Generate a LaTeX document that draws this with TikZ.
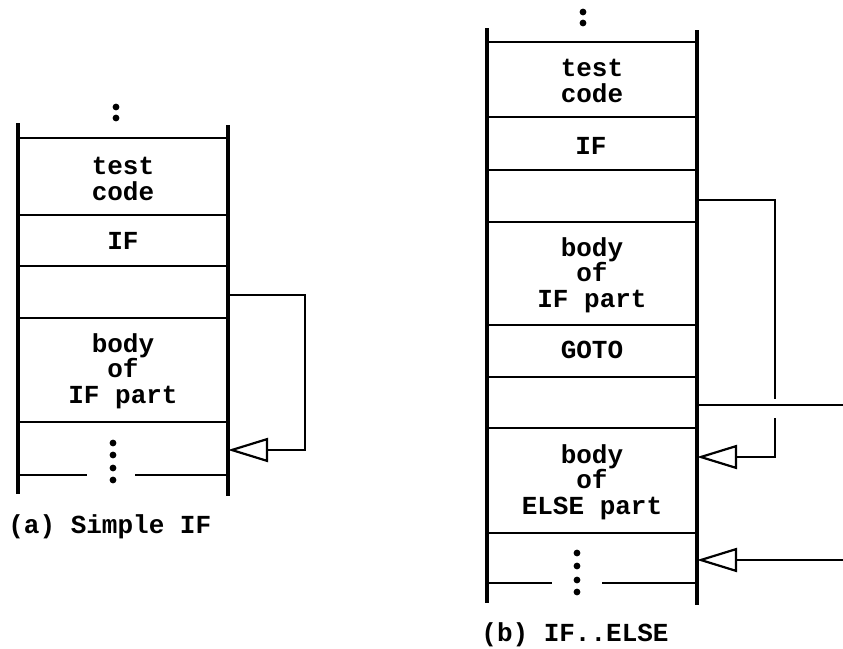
\documentclass[tikz,border=0pt]{standalone}
\usepackage{fontspec}
\setmonofont{Liberation Mono}
\usetikzlibrary{arrows.meta}
\begin{document}
\begin{tikzpicture}[x=0.5pt,y=-0.5pt,
  side/.style={line width=1.8pt},
  sep/.style={line width=1.1pt},
  link/.style={line width=1.1pt},
  lbl/.style={font=\fontsize{13}{12.8}\selectfont\ttfamily\bfseries, align=center, inner sep=0pt},
  tri/.style={-{Triangle[open,length=20pt,width=12pt,line width=1.1pt]}},
  dotmark/.style={circle,fill,inner sep=0pt,minimum size=3.4pt}
]
\useasboundingbox (0,0) rectangle (843,649);

% ---------- (a) Simple IF ----------
\draw[side] (18,123) -- (18,494);
\draw[side] (228,125) -- (228,496);
\foreach \yy in {138,215,266,318,422} \draw[sep] (18,\yy) -- (228,\yy);
\draw[sep] (18,475) -- (87,475);
\draw[sep] (135,475) -- (228,475);

\node[dotmark] (ac1) at (116,107) {};
\node[dotmark] (ac2) at (116,118) {};
\foreach \yy/\nm in {443/a1,455/a2,468/a3,480/a4} \node[dotmark] (ad\nm) at (113,\yy) {};

\node[lbl] (atest) at (123,179) {test\\code};
\node[lbl] (aif) at (123,241) {IF};
\node[lbl] (abody) at (123,371) {body\\of\\IF part};
\node[lbl, anchor=west] (acap) at (8,527) {(a) Simple IF};

\coordinate (aout) at (228,295);
\coordinate (ak1) at (305,295);
\coordinate (ak2) at (305,450);
\coordinate (ain) at (228,450);
\draw[link,tri] (aout) -- (ak1) -- (ak2) -- (ain);

% ---------- (b) IF..ELSE ----------
\draw[side] (487,28) -- (487,603);
\draw[side] (697,30) -- (697,605);
\foreach \yy in {42,117,170,222,325,377,428,533} \draw[sep] (487,\yy) -- (697,\yy);
\draw[sep] (487,583) -- (552,583);
\draw[sep] (602,583) -- (697,583);

\node[dotmark] (bc1) at (583,12) {};
\node[dotmark] (bc2) at (583,23) {};
\foreach \yy/\nm in {553/b1,566/b2,580/b3,592/b4} \node[dotmark] (bd\nm) at (577,\yy) {};

\node[lbl] (btest) at (592,81) {test\\code};
\node[lbl] (bif) at (591,146) {IF};
\node[lbl] (bbody) at (592,275) {body\\of\\IF part};
\node[lbl] (bgoto) at (592,350) {GOTO};
\node[lbl] (belse) at (592,482) {body\\of\\ELSE part};
\node[lbl, anchor=west] (bcap) at (481,635) {(b) IF..ELSE};

\coordinate (bout1) at (697,200);
\coordinate (bk1) at (775,200);
\coordinate (bgapa) at (775,399);
\coordinate (bgapb) at (775,418);
\coordinate (bk2) at (775,457);
\coordinate (bin1) at (697,457);
\draw[link] (bout1) -- (bk1) -- (bgapa);
\draw[link,tri] (bgapb) -- (bk2) -- (bin1);

\coordinate (bout2) at (697,405);
\coordinate (bedge1) at (843,405);
\draw[link] (bout2) -- (bedge1);

\coordinate (bedge2) at (843,560);
\coordinate (bin2) at (697,560);
\draw[link,tri] (bedge2) -- (bin2);
\end{tikzpicture}
\end{document}
